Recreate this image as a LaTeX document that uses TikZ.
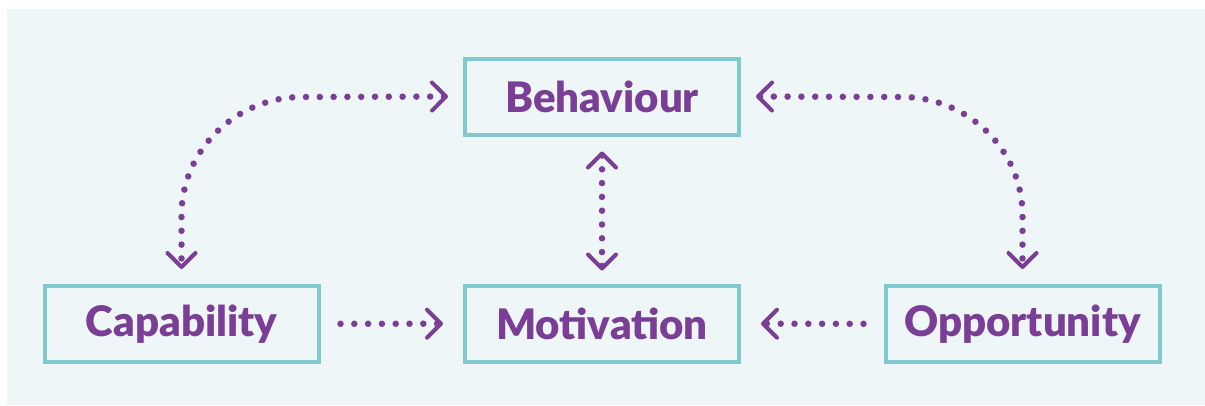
\documentclass[tikz,border=0pt]{standalone}
\usepackage{fontspec}
\setmainfont{Lato}[BoldFont={Lato Black}]
\usetikzlibrary{arrows.meta}
\definecolor{panel}{HTML}{EEF6F8}
\definecolor{teal}{HTML}{7FC9CF}
\definecolor{plum}{HTML}{7B3E96}
\tikzset{
  boxnode/.style={draw=teal, line width=4pt, minimum width=274pt, minimum height=76pt,
    inner sep=0pt, text=plum, font=\fontsize{42}{46}\selectfont\bfseries},
  chev/.tip={Straight Barb[length=14pt, width=28pt, line width=4pt, round]},
  dotline/.style={draw=plum, line width=6.5pt, line cap=round, dash pattern=on 0pt off 13.8pt},
}
\begin{document}
\begin{tikzpicture}[x=1pt, y=-1pt]
\useasboundingbox (0,0) rectangle (1205,405);
\fill[white] (0,0) rectangle (1205,405);
\fill[panel] (7,9) rectangle (1205,405);

\node[boxnode] (beh) at (602,96.5) {Behaviour};
\node[boxnode] (mot) at (602,323.5) {Motivation};
\node[boxnode] (cap) at (181.5,324) {Capability};
\node[boxnode] (opp) at (1022.5,324) {Opportunity};

\coordinate (lc1) at (302,97);
\coordinate (lc2) at (181.5,215);
\coordinate (rc1) at (902,97);
\coordinate (rc2) at (1022.5,215);

\draw[dotline, {chev}-{chev}] ([xshift=-15pt]beh.west) -- (lc1)
  .. controls (236,97) and (181.5,150) .. (lc2) -- ([yshift=15pt]cap.north);
\draw[dotline, {chev}-{chev}] ([xshift=15pt]beh.east) -- (rc1)
  .. controls (968,97) and (1022.5,150) .. (rc2) -- ([yshift=15pt]opp.north);
\draw[dotline, {chev}-{chev}, shorten <=15pt, shorten >=13pt] (beh) -- (mot);
\draw[dotline, -{chev}, shorten <=20pt, shorten >=20pt] (cap) -- (mot);
\draw[dotline, -{chev}, shorten <=20pt, shorten >=20pt] (opp) -- (mot);
\end{tikzpicture}
\end{document}
